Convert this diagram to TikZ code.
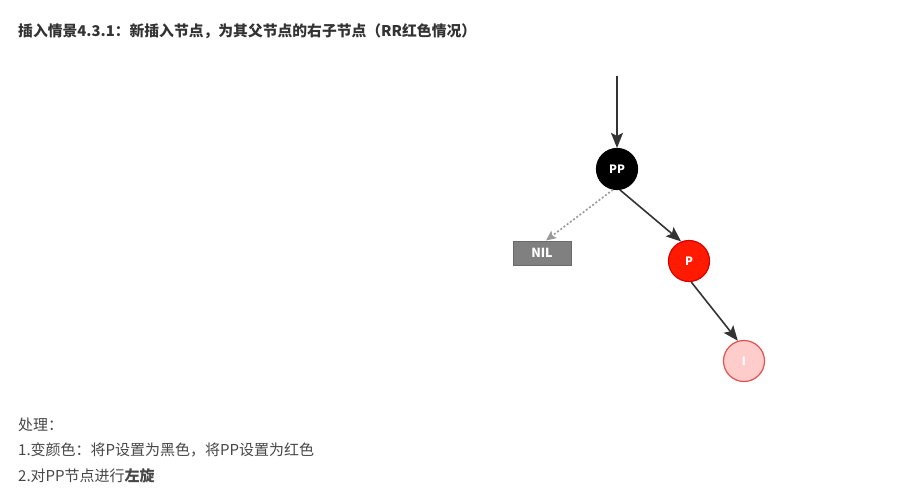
\documentclass[tikz,border=0pt]{standalone}
\usepackage{fontspec}
\setmainfont{Noto Sans CJK SC}
\newfontfamily\cjk{Noto Sans CJK SC}
\usetikzlibrary{arrows.meta}
\definecolor{txt}{HTML}{333333}
\definecolor{edge}{HTML}{333333}
\definecolor{nilgray}{HTML}{808080}
\definecolor{nilborder}{HTML}{6A6A6A}
\definecolor{redfill}{HTML}{FF1A00}
\definecolor{pinkfill}{HTML}{FFCCCC}
\definecolor{pinkborder}{HTML}{E5504A}
\tikzset{
  treenode/.style={circle, minimum size=41pt, inner sep=0pt, line width=1.2pt, font=\cjk\bfseries\fontsize{11.5}{13}\selectfont, text=white},
  blacknode/.style={treenode, fill=black, draw=black},
  rednode/.style={treenode, fill=redfill, draw=red!85!black},
  pinknode/.style={treenode, fill=pinkfill, draw=pinkborder},
  nilbox/.style={rectangle, minimum width=58pt, minimum height=24pt, inner sep=0pt, fill=nilgray, draw=nilborder, line width=1pt, font=\cjk\bfseries\fontsize{12.5}{14}\selectfont, text=white},
  link/.style={draw=edge, line width=1.6pt, -{Stealth[length=15pt,width=12pt,inset=3pt]}},
  nillink/.style={draw=gray!80, line width=1.6pt, dash pattern=on 2pt off 2pt, -{Stealth[length=10pt,width=9pt,inset=2pt]}},
  titletext/.style={anchor=west, inner sep=0pt, text=txt, font=\cjk\bfseries\fontsize{14.8}{17}\selectfont},
  bodytext/.style={anchor=west, inner sep=0pt, text=txt!90!white, font=\cjk\fontsize{15}{17}\selectfont}
}
\begin{document}
\begin{tikzpicture}[x=1pt,y=-1pt]
\useasboundingbox (0,0) rectangle (899,498);
\fill[white] (0,0) rectangle (899,498);
\node[titletext] (title) at (18,31) {插入情景4.3.1：新插入节点，为其父节点的右子节点（RR红色情况）};
\coordinate (top) at (617,76);
\node[blacknode] (PP) at (617,169) {PP};
\node[nilbox] (NIL) at (542,253) {NIL};
\node[rednode] (P) at (689,261) {P};
\node[pinknode] (I) at (744,361) {I};
\draw[link] (top) -- (PP);
\draw[nillink] (PP.-101) -- ([xshift=4pt]NIL.north);
\draw[link] (PP.-82) -- (P.112);
\draw[link] (P.-84) -- (I.107);
\node[bodytext] (t1) at (18,425) {处理：};
\node[bodytext] (t2) at (18,450) {1.变颜色：将P设置为黑色，将PP设置为红色};
\node[bodytext] (t3) at (18,476) {2.对PP节点进行\textbf{左旋}};
\end{tikzpicture}
\end{document}
